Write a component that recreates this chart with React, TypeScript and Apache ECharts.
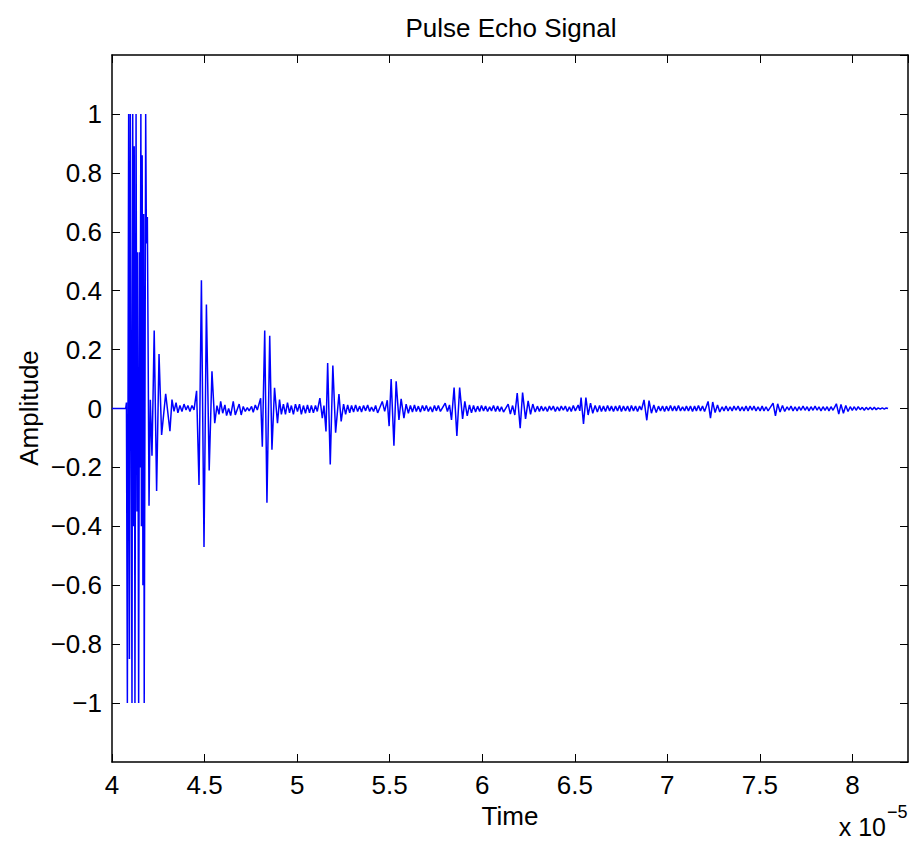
import React, { useEffect, useRef } from "react";
import * as echarts from "echarts";

// Time in units of 1e-5 s, amplitude (normalised)
const mainBang: [number, number][] = [
  [4.0, 0], [4.074, 0], [4.078, 0.02], [4.083, -1], [4.09, 1], [4.094, -0.85], [4.099, 1],
  [4.108, -1], [4.112, 1], [4.116, -0.4], [4.12, 0.89], [4.124, -1], [4.13, 1], [4.135, -0.35],
  [4.138, 0.53], [4.144, -1], [4.149, 0.53], [4.151, -0.2], [4.156, 1], [4.159, -0.4],
  [4.163, 0.86], [4.167, -0.6], [4.171, 0.66], [4.174, -1], [4.182, 1], [4.186, 0.56],
  [4.191, 0.65], [4.2, -0.33], [4.207, 0.03], [4.216, -0.16], [4.228, 0.265], [4.241, -0.28],
  [4.254, 0.185], [4.268, -0.09], [4.29, 0.05], [4.313, -0.077], [4.324, 0.03], [4.335, -0.01],
  [4.346, 0.02], [4.356, -0.015], [4.367, 0.01], [4.378, -0.01], [4.389, 0.015], [4.4, -0.005],
  [4.41, 0.01], [4.421, -0.01], [4.432, 0.01], [4.443, -0.005],
];
const echo1: [number, number][] = [
  [4.457, 0.06], [4.47, -0.26], [4.483, 0.435], [4.497, -0.47], [4.51, 0.353], [4.525, -0.21],
  [4.54, 0.126], [4.555, -0.05],
];
const gap1: [number, number][] = [
  [4.567, 0.01], [4.578, -0.02], [4.587, 0.024], [4.598, -0.016], [4.61, 0.012], [4.619, -0.024],
  [4.63, 0.0], [4.641, -0.024], [4.655, 0.024], [4.666, -0.022], [4.687, 0.015], [4.698, -0.022],
  [4.709, 0.007], [4.72, -0.01], [4.731, 0.003], [4.741, -0.008], [4.754, 0.007], [4.763, -0.013],
  [4.774, 0.012], [4.785, -0.005],
];
const echo2: [number, number][] = [
  [4.803, 0.035], [4.812, -0.13], [4.825, 0.265], [4.837, -0.32], [4.852, 0.247], [4.864, -0.14],
  [4.878, 0.07], [4.894, -0.05], [4.905, 0.03],
];
const gap2: [number, number][] = [
  [4.915, -0.02], [4.926, 0.015], [4.937, -0.02], [4.948, 0.02], [4.959, -0.015], [4.969, 0.01],
  [4.98, -0.02], [4.991, 0.015], [5.002, -0.01], [5.013, 0.015], [5.023, -0.02], [5.034, 0.01],
  [5.045, -0.016], [5.056, 0.012], [5.067, -0.015], [5.077, 0.01], [5.088, -0.015], [5.099, 0.01],
  [5.109, -0.01],
];
const echo3: [number, number][] = [
  [5.123, 0.035], [5.136, -0.033], [5.145, 0.01], [5.156, -0.078], [5.165, 0.154], [5.179, -0.19],
  [5.193, 0.146], [5.208, -0.082], [5.226, 0.049], [5.238, -0.044], [5.251, 0.015], [5.262, -0.02],
];
const gap3: [number, number][] = [
  [5.273, 0.012], [5.284, -0.015], [5.294, 0.01], [5.305, -0.012], [5.316, 0.012], [5.327, -0.01],
  [5.338, 0.008], [5.348, -0.012], [5.359, 0.01], [5.37, -0.008], [5.381, 0.012], [5.392, -0.01],
  [5.402, 0.005], [5.413, -0.01], [5.424, 0.01], [5.435, -0.015],
];
const echo4: [number, number][] = [
  [5.46, 0.024], [5.473, -0.01], [5.487, 0.028], [5.497, -0.06], [5.508, 0.1], [5.523, -0.126],
  [5.535, 0.092], [5.55, -0.039], [5.562, 0.033], [5.577, -0.033], [5.589, 0.015], [5.601, -0.016],
];
const gap4: [number, number][] = [
  [5.612, 0.01], [5.623, -0.012], [5.634, 0.012], [5.644, -0.01], [5.655, 0.008], [5.666, -0.012],
  [5.677, 0.01], [5.688, -0.008], [5.698, 0.01], [5.709, -0.01], [5.72, 0.006], [5.731, -0.012],
  [5.742, 0.01], [5.752, -0.008], [5.763, 0.01], [5.774, -0.01],
];
const echo5: [number, number][] = [
  [5.8, 0.018], [5.812, -0.01], [5.823, 0.012], [5.834, -0.039], [5.848, 0.071], [5.863, -0.093],
  [5.878, 0.071], [5.894, -0.035], [5.906, 0.024], [5.919, -0.025], [5.931, 0.012], [5.942, -0.015],
];
const gap5: [number, number][] = [
  [5.953, 0.01], [5.964, -0.012], [5.975, 0.008], [5.986, -0.01], [5.996, 0.01], [6.007, -0.008],
  [6.018, 0.008], [6.029, -0.01], [6.04, 0.006], [6.05, -0.008], [6.061, 0.01], [6.072, -0.01],
  [6.083, 0.008], [6.094, -0.01], [6.104, 0.006], [6.115, -0.012],
];
const echo6: [number, number][] = [
  [6.14, 0.015], [6.152, -0.019], [6.164, 0.01], [6.176, -0.022], [6.189, 0.052], [6.205, -0.067],
  [6.218, 0.054], [6.234, -0.035], [6.248, 0.026], [6.261, -0.02], [6.273, 0.015], [6.286, -0.012],
];
const gap6: [number, number][] = [
  [6.298, 0.008], [6.309, -0.01], [6.319, 0.008], [6.33, -0.008], [6.341, 0.006], [6.352, -0.01],
  [6.363, 0.008], [6.373, -0.006], [6.384, 0.008], [6.395, -0.01], [6.406, 0.006], [6.417, -0.008],
  [6.427, 0.008], [6.438, -0.006], [6.449, 0.008], [6.46, -0.01], [6.471, 0.006], [6.481, -0.01],
  [6.492, 0.01], [6.503, -0.008],
];
const echo7: [number, number][] = [
  [6.518, 0.012], [6.527, -0.008], [6.534, 0.037], [6.547, -0.052], [6.56, 0.037], [6.572, -0.022],
  [6.585, 0.018], [6.597, -0.016], [6.61, 0.01], [6.622, -0.012],
];
const gap7: [number, number][] = [
  [6.634, 0.01], [6.644, -0.01], [6.655, 0.008], [6.666, -0.01], [6.677, 0.01], [6.688, -0.008],
  [6.698, 0.008], [6.709, -0.01], [6.72, 0.008], [6.731, -0.008], [6.742, 0.01], [6.752, -0.01],
  [6.763, 0.008], [6.774, -0.008], [6.785, 0.008], [6.796, -0.01], [6.806, 0.01], [6.817, -0.008],
  [6.828, 0.008], [6.839, -0.01], [6.85, 0.008],
];
const echo8: [number, number][] = [
  [6.86, -0.005], [6.874, 0.029], [6.889, -0.04], [6.901, 0.027], [6.914, -0.016], [6.927, 0.012],
  [6.94, -0.014], [6.952, 0.008],
];
const gap8: [number, number][] = [
  [6.963, -0.008], [6.974, 0.008], [6.985, -0.01], [6.995, 0.008], [7.006, -0.008], [7.017, 0.01],
  [7.028, -0.008], [7.039, 0.008], [7.049, -0.008], [7.06, 0.01], [7.071, -0.008], [7.082, 0.006],
  [7.093, -0.008], [7.103, 0.008], [7.114, -0.008], [7.125, 0.008], [7.136, -0.01], [7.147, 0.008],
  [7.157, -0.008], [7.168, 0.01], [7.179, -0.008], [7.19, 0.008], [7.201, -0.01],
];
const echo9: [number, number][] = [
  [7.22, 0.024], [7.233, -0.033], [7.245, 0.022], [7.258, -0.014], [7.271, 0.012], [7.283, -0.012],
  [7.296, 0.006],
];
const gap9: [number, number][] = [
  [7.306, -0.008], [7.317, 0.008], [7.328, -0.008], [7.339, 0.006], [7.35, -0.008], [7.36, 0.008],
  [7.371, -0.006], [7.382, 0.008], [7.393, -0.008], [7.404, 0.006], [7.414, -0.008], [7.425, 0.008],
  [7.436, -0.008], [7.447, 0.008], [7.458, -0.006], [7.468, 0.008], [7.479, -0.008], [7.49, 0.006],
  [7.501, -0.008], [7.512, 0.008], [7.522, -0.008], [7.533, 0.006], [7.544, -0.008],
];
const echo10: [number, number][] = [
  [7.571, 0.018], [7.584, -0.025], [7.596, 0.016], [7.609, -0.012], [7.622, 0.01], [7.634, -0.01],
  [7.647, 0.006],
];
const gap10: [number, number][] = [
  [7.657, -0.006], [7.668, 0.008], [7.679, -0.008], [7.69, 0.006], [7.701, -0.008], [7.711, 0.006],
  [7.722, -0.006], [7.733, 0.008], [7.744, -0.006], [7.755, 0.006], [7.765, -0.008], [7.776, 0.006],
  [7.787, -0.006], [7.798, 0.008], [7.809, -0.006], [7.819, 0.006], [7.83, -0.008], [7.841, 0.006],
  [7.852, -0.006], [7.863, 0.006], [7.873, -0.008], [7.884, 0.006], [7.895, -0.006],
];
const echo11: [number, number][] = [
  [7.913, 0.016], [7.926, -0.019], [7.938, 0.014], [7.951, -0.016], [7.964, 0.01], [7.976, -0.01],
  [7.988, 0.006],
];
const gap11: [number, number][] = [
  [7.999, -0.006], [8.01, 0.006], [8.02, -0.006], [8.031, 0.006], [8.042, -0.004], [8.053, 0.004],
  [8.064, -0.006], [8.074, 0.004], [8.085, -0.004], [8.096, 0.004], [8.107, -0.004], [8.118, 0.004],
  [8.128, -0.004], [8.139, 0.002], [8.15, -0.002], [8.161, 0.002], [8.172, -0.002], [8.182, 0.002],
  [8.192, 0],
];

const segments = [
  mainBang, echo1, gap1, echo2, gap2, echo3, gap3, echo4, gap4, echo5, gap5, echo6, gap6,
  echo7, gap7, echo8, gap8, echo9, gap9, echo10, gap10, echo11, gap11,
];

const X_MIN = 4;
const X_MAX = 8.3;
const X_STEP = 0.5;
const Y_MIN = -1.2;
const Y_MAX = 1.2;
const Y_STEP = 0.2;

const TITLE = "Pulse Echo Signal";
const X_NAME = "Time";
const Y_NAME = "Amplitude";
const X_EXP_BASE = "x 10";
const X_EXP_POW = "\u22125";

const FONT = '"Liberation Sans", Arial, Helvetica, sans-serif';
const FS = 26;

const fmtX = (v: number) => String(Math.round(v * 10) / 10);
const fmtY = (v: number) => {
  const r = Math.round(v * 10) / 10;
  if (r === 0) return "0";
  return (r < 0 ? "\u2212" : "") + String(Math.abs(r));
};

export default function App() {
  const ref = useRef<HTMLDivElement>(null);
  useEffect(() => {
    if (!ref.current) return;
    const chart = echarts.init(ref.current, undefined, { renderer: "svg" });
    const data = segments.flat();
    const axisLine = { show: true, onZero: false, lineStyle: { color: "#000", width: 1.5 } };
    const axisTick = { show: true, inside: true, length: 8, lineStyle: { color: "#000", width: 1 } };
    const label = { fontSize: FS, fontFamily: FONT, color: "#000" };
    chart.setOption({
      animation: false,
      backgroundColor: "#fff",
      grid: { left: 112, top: 55, right: 4, bottom: 81, containLabel: false },
      xAxis: [
        {
          type: "value", min: X_MIN, max: X_MAX, interval: X_STEP, position: "bottom",
          axisLine, axisTick, splitLine: { show: false },
          axisLabel: { ...label, margin: 10, showMaxLabel: false, formatter: fmtX },
        },
        {
          type: "value", min: X_MIN, max: X_MAX, interval: X_STEP, position: "top",
          axisLine, axisTick, splitLine: { show: false }, axisLabel: { show: false },
        },
      ],
      yAxis: [
        {
          type: "value", min: Y_MIN, max: Y_MAX, interval: Y_STEP, position: "left",
          axisLine, axisTick, splitLine: { show: false },
          axisLabel: { ...label, margin: 10, showMinLabel: false, showMaxLabel: false, formatter: fmtY },
        },
        {
          type: "value", min: Y_MIN, max: Y_MAX, interval: Y_STEP, position: "right",
          axisLine, axisTick, splitLine: { show: false }, axisLabel: { show: false },
        },
      ],
      series: [
        {
          type: "line", xAxisIndex: 0, yAxisIndex: 0, data, showSymbol: false, symbol: "none",
          lineStyle: { color: "#0000ff", width: 1.5 }, silent: true,
        },
      ],
      graphic: [
        {
          type: "text", x: 511, y: 28,
          style: { text: TITLE, font: `${FS}px ${FONT}`, fill: "#000", textAlign: "center", textVerticalAlign: "middle" },
        },
        {
          type: "text", x: 510, y: 816,
          style: { text: X_NAME, font: `${FS}px ${FONT}`, fill: "#000", textAlign: "center", textVerticalAlign: "middle" },
        },
        {
          type: "text", x: 29, y: 408, rotation: Math.PI / 2,
          style: { text: Y_NAME, font: `${FS}px ${FONT}`, fill: "#000", textAlign: "center", textVerticalAlign: "middle" },
        },
        {
          type: "text", x: 886, y: 827,
          style: { text: X_EXP_BASE, font: `25px ${FONT}`, fill: "#000", textAlign: "right", textVerticalAlign: "middle" },
        },
        {
          type: "text", x: 887, y: 812,
          style: { text: X_EXP_POW, font: `18px ${FONT}`, fill: "#000", textAlign: "left", textVerticalAlign: "middle" },
        },
      ],
    });
    return () => chart.dispose();
  }, []);
  return (
    <div
      ref={ref}
      style={{ position: "absolute", left: 0, top: 0, width: 912, height: 843, background: "#fff" }}
    />
  );
}
